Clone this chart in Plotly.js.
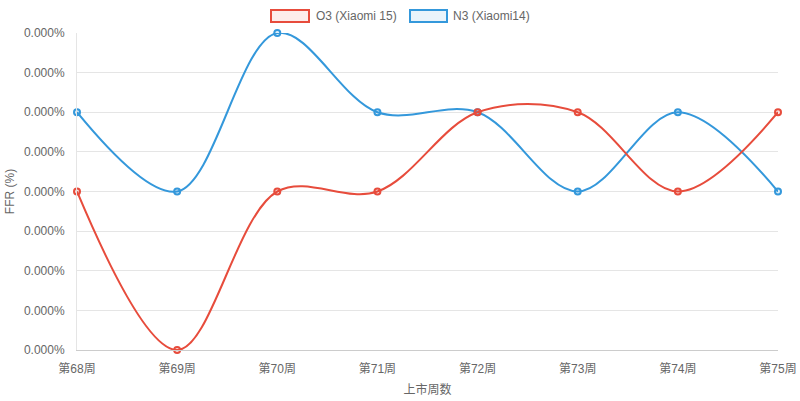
<!DOCTYPE html>
<html>
<head>
<meta charset="utf-8">
<script src="https://cdn.plot.ly/plotly-3.0.1.min.js"></script>
<style>
  html, body { margin: 0; padding: 0; background: #fff; }
  #chart { width: 800px; height: 401px; }
</style>
</head>
<body>
<div id="chart"></div>
<script>
// chart data
const weeks = ["第68周", "第69周", "第70周", "第71周", "第72周", "第73周", "第74周", "第75周"];
const o3Name = "O3 (Xiaomi 15)";
const n3Name = "N3 (Xiaomi14)";
const o3Ffr = [0.0002, 0, 0.0002, 0.0002, 0.0003, 0.0003, 0.0002, 0.0003];
const n3Ffr = [0.0003, 0.0002, 0.0004, 0.0003, 0.0003, 0.0002, 0.0003, 0.0002];

const RED = "rgb(231,76,60)";
const BLUE = "rgb(52,152,219)";
const FONT = "Liberation Sans, Arial, Noto Sans CJK SC, sans-serif";

function makeTrace(name, y, color, fill) {
  return {
    name: name,
    x: weeks,
    y: y,
    type: "scatter",
    mode: "lines+markers",
    cliponaxis: false,
    line: { color: color, width: 2, shape: "spline", smoothing: 1 },
    marker: { size: 6, color: fill, line: { color: color, width: 2 } },
    hoverinfo: "x+y",
  };
}

// red on top like the original
let series = [
  makeTrace(n3Name, n3Ffr, BLUE, "rgba(52,152,219,0.15)"),
  makeTrace(o3Name, o3Ffr, RED, "rgba(231,76,60,0.15)"),
];

let layout = {
  width: 800,
  height: 401,
  margin: { l: 77, r: 22, t: 33, b: 51 },
  paper_bgcolor: "#fff",
  plot_bgcolor: "#fff",
  font: { family: FONT, size: 12, color: "#666" },
  showlegend: false,
  xaxis: {
    type: "category",
    range: [0, weeks.length - 1],
    showgrid: false,
    zeroline: false,
    showline: true,
    linecolor: "#ccc",
    linewidth: 1,
    ticks: "",
    ticklabelstandoff: 8,
    tickfont: { family: FONT, size: 12, color: "#666" },
    title: { text: "上市周数", font: { family: FONT, size: 12, color: "#666" }, standoff: 10 },
    fixedrange: true,
  },
  yaxis: {
    range: [0, 0.0004],
    tick0: 0,
    dtick: 0.00005,
    tickformat: ".3f",
    ticksuffix: "%",
    showgrid: true,
    gridcolor: "#e5e5e5",
    zeroline: false,
    showline: true,
    linecolor: "#e5e5e5",
    ticks: "",
    ticklabelstandoff: 9,
    tickfont: { family: FONT, size: 12, color: "#666" },
    title: { text: "FFR (%)", font: { family: FONT, size: 12, color: "#666" }, standoff: 6 },
    fixedrange: true,
  },
  // chart.js style legend boxes
  shapes: [
    { type: "rect", xref: "paper", yref: "paper", line: { color: RED, width: 2 }, fillcolor: "rgba(231,76,60,0.1)" },
    { type: "rect", xref: "paper", yref: "paper", line: { color: BLUE, width: 2 }, fillcolor: "rgba(52,152,219,0.1)" },
  ],
  annotations: [
    { xref: "paper", yref: "paper", xanchor: "left", yanchor: "middle",
      text: o3Name, showarrow: false, font: { family: FONT, size: 12, color: "#666" } },
    { xref: "paper", yref: "paper", xanchor: "left", yanchor: "middle",
      text: n3Name, showarrow: false, font: { family: FONT, size: 12, color: "#666" } },
  ],
};

// legend box positions worked out in pixels, turned into paper units
(function placeLegend() {
  const plotW = 800 - 77 - 22, plotH = 401 - 33 - 51;
  const px = (x) => (x - 77) / plotW;
  const py = (y) => (401 - 51 - y) / plotH;
  layout.shapes[0].x0 = px(271); layout.shapes[0].x1 = px(309);
  layout.shapes[1].x0 = px(410); layout.shapes[1].x1 = px(447);
  for (const s of layout.shapes) { s.y0 = py(22); s.y1 = py(10); }
  layout.annotations[0].x = px(314);
  layout.annotations[1].x = px(451);
  for (const a of layout.annotations) { a.y = py(16); }
})();

Plotly.newPlot("chart", series, layout, { displayModeBar: false, staticPlot: true });
</script>
</body>
</html>
